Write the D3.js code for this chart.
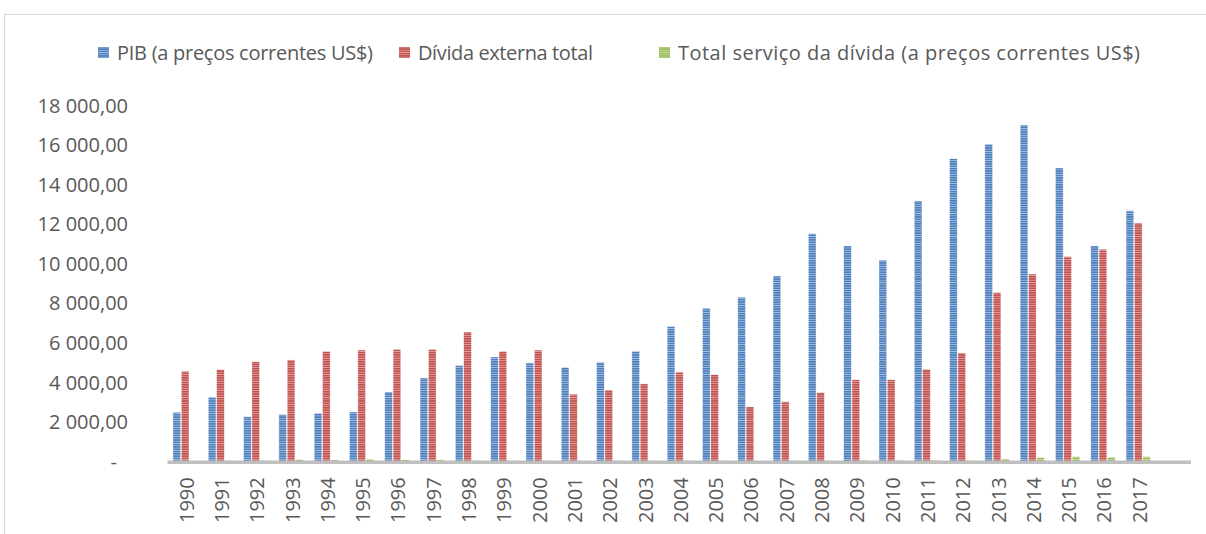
<!DOCTYPE html>
<html>
<head>
<meta charset="utf-8">
<script src="https://cdn.jsdelivr.net/npm/d3@7"></script>
<style>
  body { margin: 0; background: #fff; }
  svg { display: block; }
</style>
</head>
<body>
<svg id="chart" width="1206" height="534"></svg>
<script>
// Years on the x axis
const years = d3.range(1990, 2018).map(String);

// PIB (a preços correntes US$)
const pib = [2480, 3250, 2250, 2360, 2430, 2490, 3500, 4210, 4850, 5270,
  4970, 4750, 5000, 5570, 6820, 7730, 8290, 9360, 11500, 10880,
  10160, 13150, 15290, 16030, 16990, 14820, 10880, 12660];

// Dívida externa total
const divida = [4550, 4630, 5030, 5120, 5560, 5620, 5660, 5660, 6530, 5560,
  5620, 3390, 3600, 3910, 4510, 4380, 2750, 3010, 3470, 4120,
  4120, 4650, 5470, 8520, 9460, 10340, 10710, 12030];

// Total serviço da dívida (a preços correntes US$)
const servico = [10, 30, 30, 85, 70, 110, 80, 70, 40, 30,
  30, 20, 20, 30, 30, 30, 20, 30, 30, 40,
  50, 40, 40, 120, 200, 236, 210, 236];

const seriesNames = [
  'PIB (a preços correntes US$)',
  'Dívida externa total',
  'Total serviço da dívida (a preços correntes US$)'
];
const yTicks = [0, 2000, 4000, 6000, 8000, 10000, 12000, 14000, 16000, 18000];

// dark / light stripe colours per series
const colors = [
  { dark: '#4a7dbb', light: '#a9c2e2' },
  { dark: '#c0504d', light: '#e3a3a1' },
  { dark: '#9bbb59', light: '#c9dca4' }
];

const width = 1206, height = 534;
const margin = { left: 167.5, right: 1191, top: 105, bottom: 461.3 };
const textColor = '#595959';
const font = "'Open Sans', sans-serif";

const svg = d3.select('#chart');

// outer frame (only top and left edges are visible)
svg.append('rect')
  .attr('x', 4.5).attr('y', 14.5)
  .attr('width', 1300).attr('height', 600)
  .attr('fill', 'none')
  .attr('stroke', '#d9d9d9')
  .attr('stroke-width', 1);

// striped fill patterns
const defs = svg.append('defs');
colors.forEach((c, i) => {
  const p = defs.append('pattern')
    .attr('id', 'stripe' + i)
    .attr('patternUnits', 'userSpaceOnUse')
    .attr('width', 4).attr('height', 2.3);
  p.append('rect').attr('width', 4).attr('height', 2.3).attr('fill', c.dark);
  p.append('rect').attr('y', 1.5).attr('width', 4).attr('height', 0.8).attr('fill', c.light);
});

// scales
const x = d3.scaleBand()
  .domain(years)
  .range([margin.left, margin.left + 28 * 35.3])
  .paddingInner(0.31)
  .paddingOuter(0.155);

const xSub = d3.scaleBand()
  .domain([0, 1, 2])
  .range([0, x.bandwidth()])
  .paddingInner(0.08);

const y = d3.scaleLinear()
  .domain([0, 18000])
  .range([margin.bottom, margin.top]);

// number format like "18 000,00"
const locale = d3.formatLocale({ decimal: ',', thousands: ' ', grouping: [3], currency: ['', ''] });
const fmt = locale.format(',.2f');

// y axis labels
const yAxis = svg.append('g')
  .attr('transform', 'translate(128,0)')
  .call(d3.axisLeft(y).tickValues(yTicks).tickSize(0).tickPadding(0)
    .tickFormat(d => d === 0 ? '-' : fmt(d)));
yAxis.select('.domain').remove();
yAxis.selectAll('text')
  .attr('font-family', font)
  .attr('font-size', 20)
  .attr('fill', textColor)
  .attr('dy', '0.35em')
  .attr('x', d => d === 0 ? -11 : 0);

// bars
const data = [pib, divida, servico];
data.forEach((vals, si) => {
  svg.append('g')
    .selectAll('rect')
    .data(vals)
    .join('rect')
    .attr('x', (d, i) => x(years[i]) + xSub(si))
    .attr('y', d => y(d))
    .attr('width', xSub.bandwidth())
    .attr('height', d => y(0) - y(d))
    .attr('fill', `url(#stripe${si})`)
    .attr('stroke', '#ffffff')
    .attr('stroke-opacity', 0.6)
    .attr('stroke-width', 0.6);
});

// category axis line
svg.append('line')
  .attr('x1', margin.left).attr('x2', margin.right)
  .attr('y1', y(0) + 1).attr('y2', y(0) + 1)
  .attr('stroke', '#bfbfbf')
  .attr('stroke-width', 3.5);

// x axis labels (rotated)
const xAxis = svg.append('g')
  .attr('transform', `translate(0,${y(0)})`)
  .call(d3.axisBottom(x).tickSize(0).tickPadding(0));
xAxis.select('.domain').remove();
xAxis.selectAll('text')
  .attr('font-family', font)
  .attr('font-size', 20)
  .attr('fill', textColor)
  .attr('text-anchor', 'end')
  .attr('transform', 'rotate(-90)')
  .attr('x', -16)
  .attr('y', 1.5)
  .attr('dy', '0.35em');

// legend
const legendItems = [
  { sx: 98, tx: 117, w: 256 },
  { sx: 399, tx: 418, w: 175 },
  { sx: 659, tx: 678, w: 462 }
];
seriesNames.forEach((name, i) => {
  const g = svg.append('g');
  g.append('rect')
    .attr('x', legendItems[i].sx).attr('y', 47)
    .attr('width', 11).attr('height', 11)
    .attr('fill', `url(#stripe${i})`);
  g.append('text')
    .attr('x', legendItems[i].tx).attr('y', 53)
    .attr('dy', '0.35em')
    .attr('font-family', font)
    .attr('font-size', 20)
    .attr('fill', textColor)
    .attr('textLength', legendItems[i].w)
    .attr('lengthAdjust', 'spacing')
    .text(name);
});
</script>
</body>
</html>
